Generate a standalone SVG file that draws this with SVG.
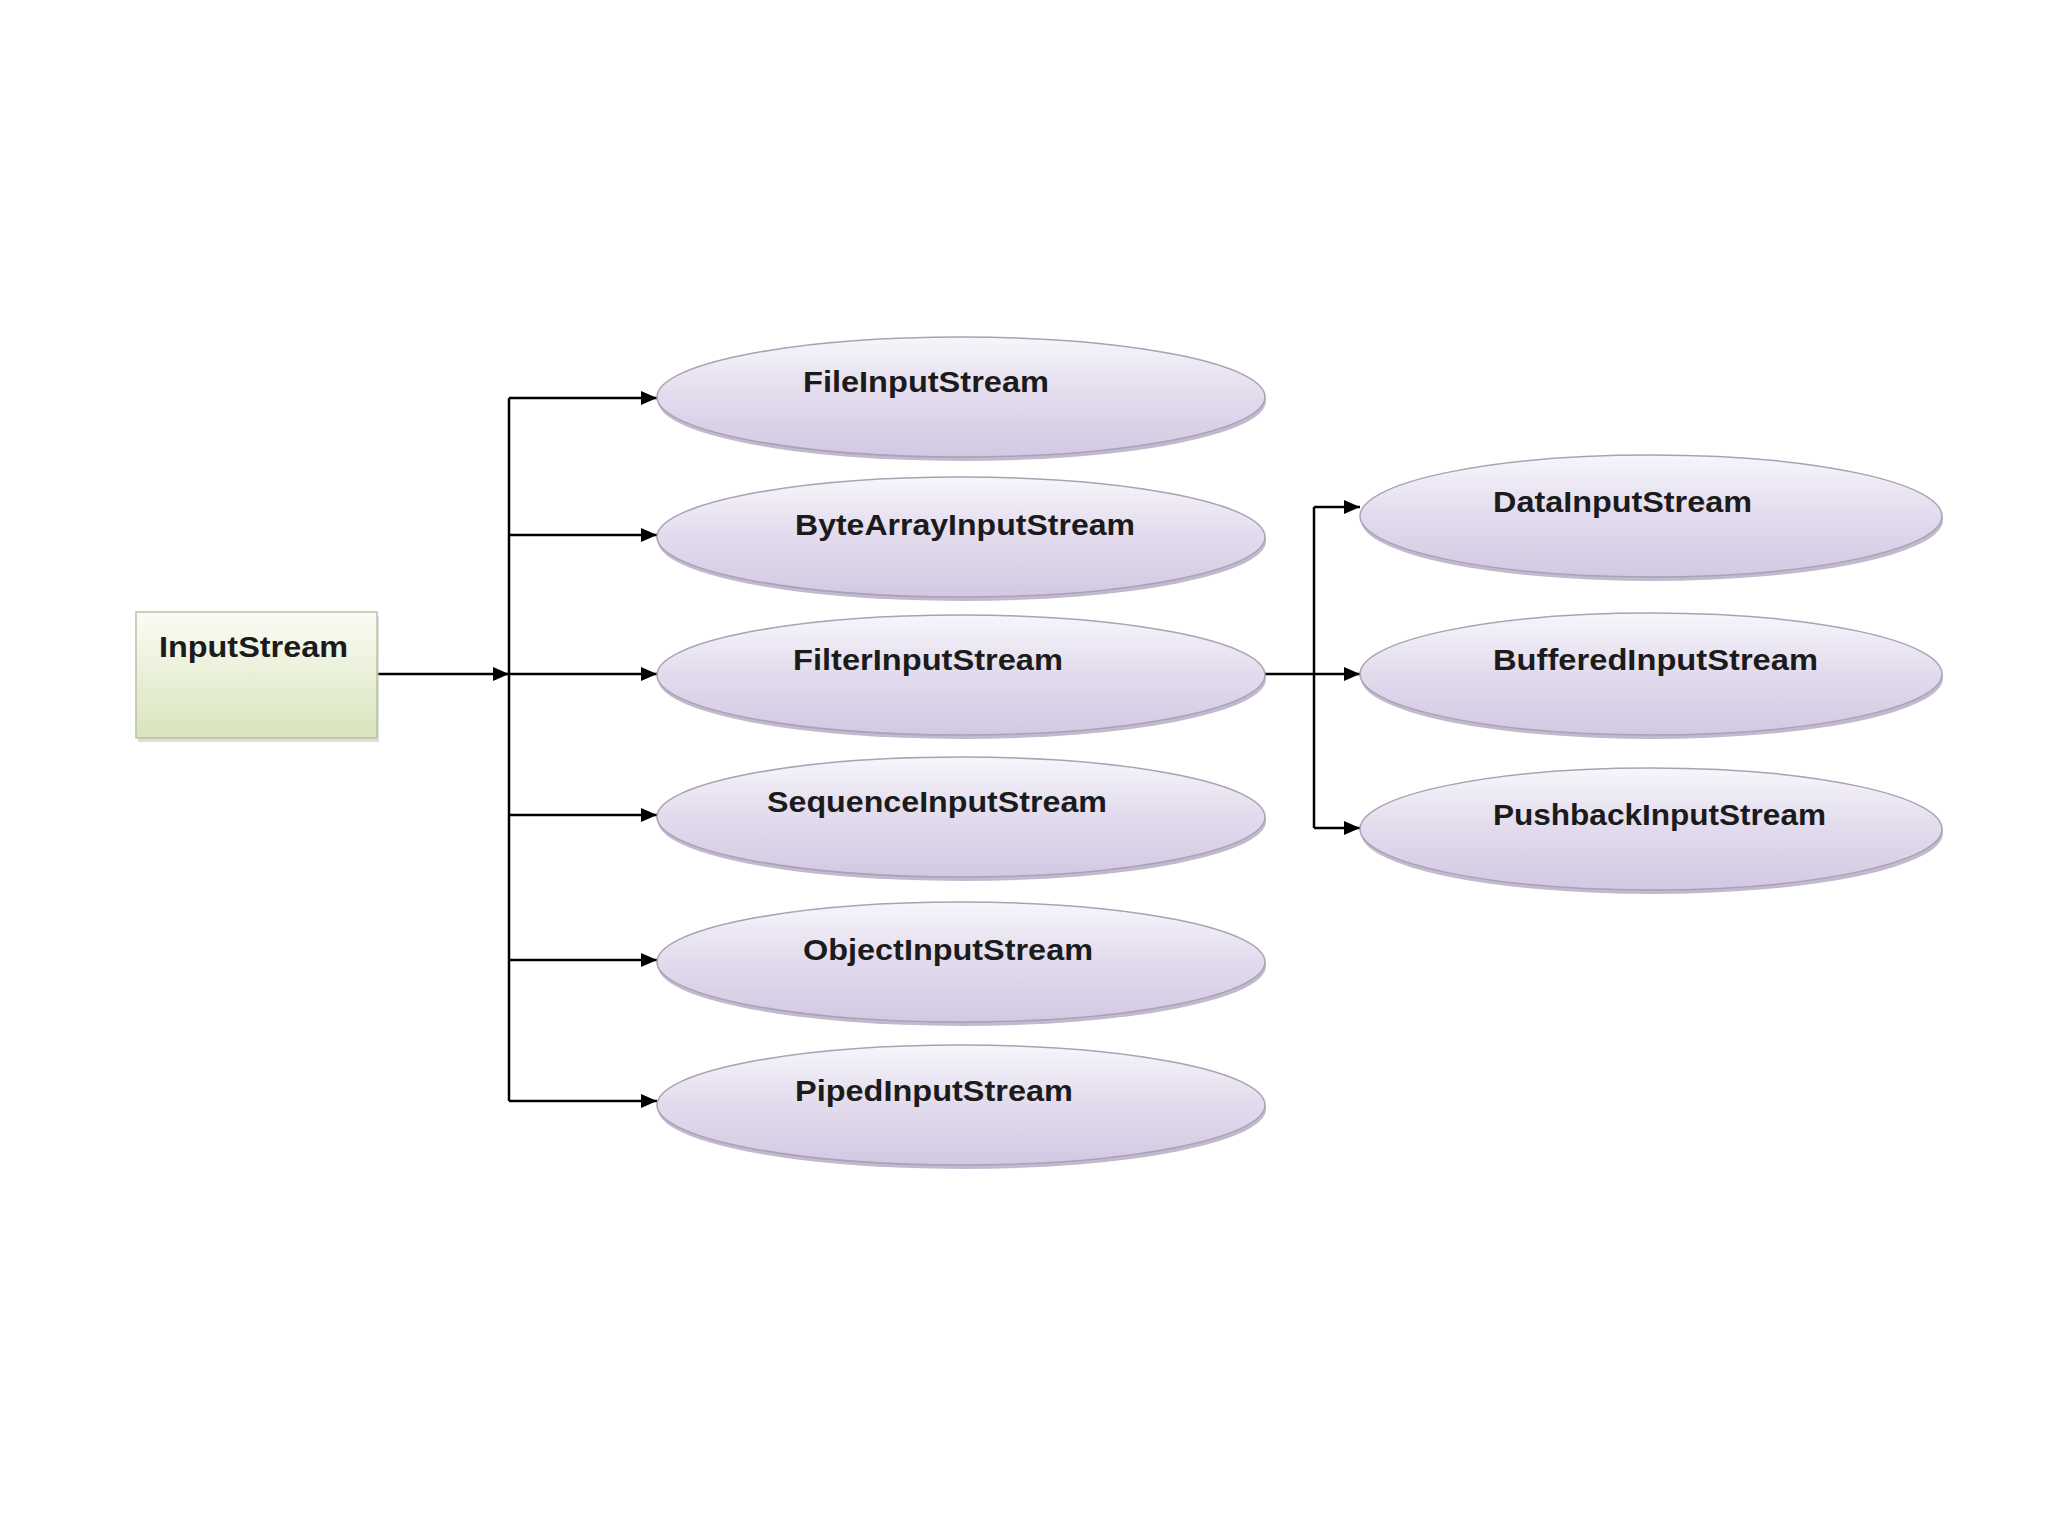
<svg xmlns="http://www.w3.org/2000/svg" width="2048" height="1536" viewBox="0 0 2048 1536">
<defs>
<linearGradient id="gEll" x1="0" y1="0" x2="0" y2="1">
<stop offset="0" stop-color="#f7f6fb"/>
<stop offset="0.45" stop-color="#e4ddee"/>
<stop offset="1" stop-color="#d3c8e2"/>
</linearGradient>
<linearGradient id="gBox" x1="0" y1="0" x2="0" y2="1">
<stop offset="0" stop-color="#fbfcf5"/>
<stop offset="1" stop-color="#d8e4bb"/>
</linearGradient>
<marker id="arr" viewBox="0 0 10 10" refX="10" refY="5" markerWidth="8" markerHeight="8" markerUnits="userSpaceOnUse" orient="auto">
<path d="M0,0 L10,5 L0,10 z" fill="#000"/>
</marker>
<marker id="arrow" viewBox="0 0 16 14" refX="16" refY="7" markerWidth="16" markerHeight="14" markerUnits="userSpaceOnUse" orient="auto">
<path d="M0,0 L16,7 L0,14 z" fill="#000"/>
</marker>
</defs>
<style>
.ell{fill:url(#gEll);stroke:#a9a2b4;stroke-width:1.5}
.sh{fill:#b3a8c2;opacity:0.8}
.box{fill:url(#gBox);stroke:#b9c1aa;stroke-width:1.5}
.t{font-family:"Liberation Sans",Arial,sans-serif;font-weight:bold;font-size:30px;fill:#1b1b1b}
.ln{stroke:#000;stroke-width:2.5;fill:none}
.la{stroke:#000;stroke-width:2.5;fill:none;marker-end:url(#arrow)}
</style>
<rect width="2048" height="1536" fill="#ffffff"/>

<g id="connectors">
<line class="la" x1="377" y1="674" x2="509" y2="674"/>
<line class="ln" x1="509" y1="398" x2="509" y2="1101"/>
<line class="la" x1="509" y1="398" x2="657" y2="398"/>
<line class="la" x1="509" y1="535" x2="657" y2="535"/>
<line class="la" x1="509" y1="674" x2="657" y2="674"/>
<line class="la" x1="509" y1="815" x2="657" y2="815"/>
<line class="la" x1="509" y1="960" x2="657" y2="960"/>
<line class="la" x1="509" y1="1101" x2="657" y2="1101"/>
<line class="la" x1="1265" y1="674" x2="1360" y2="674"/>
<line class="ln" x1="1314" y1="507" x2="1314" y2="828"/>
<line class="la" x1="1314" y1="507" x2="1360" y2="507"/>
<line class="la" x1="1314" y1="828" x2="1360" y2="828"/>
</g>

<g id="InputStream">
<rect x="138" y="616" width="241" height="126" fill="#c9cdbf" opacity="0.6"/>
<rect class="box" x="136" y="612" width="241" height="126"/>
<text class="t" x="159" y="657" textLength="189" lengthAdjust="spacingAndGlyphs">InputStream</text>
</g>

<g id="FileInputStream">
<ellipse class="sh" cx="962" cy="401" rx="304" ry="60"/>
<ellipse class="ell" cx="961" cy="397" rx="304" ry="60"/>
<text class="t" x="803" y="392" textLength="246" lengthAdjust="spacingAndGlyphs">FileInputStream</text>
</g>

<g id="ByteArrayInputStream">
<ellipse class="sh" cx="962" cy="541" rx="304" ry="60"/>
<ellipse class="ell" cx="961" cy="537" rx="304" ry="60"/>
<text class="t" x="795" y="535" textLength="340" lengthAdjust="spacingAndGlyphs">ByteArrayInputStream</text>
</g>

<g id="FilterInputStream">
<ellipse class="sh" cx="962" cy="679" rx="304" ry="60"/>
<ellipse class="ell" cx="961" cy="675" rx="304" ry="60"/>
<text class="t" x="793" y="670" textLength="270" lengthAdjust="spacingAndGlyphs">FilterInputStream</text>
</g>

<g id="SequenceInputStream">
<ellipse class="sh" cx="962" cy="821" rx="304" ry="60"/>
<ellipse class="ell" cx="961" cy="817" rx="304" ry="60"/>
<text class="t" x="767" y="812" textLength="340" lengthAdjust="spacingAndGlyphs">SequenceInputStream</text>
</g>

<g id="ObjectInputStream">
<ellipse class="sh" cx="962" cy="966" rx="304" ry="60"/>
<ellipse class="ell" cx="961" cy="962" rx="304" ry="60"/>
<text class="t" x="803" y="960" textLength="290" lengthAdjust="spacingAndGlyphs">ObjectInputStream</text>
</g>

<g id="PipedInputStream">
<ellipse class="sh" cx="962" cy="1109" rx="304" ry="60"/>
<ellipse class="ell" cx="961" cy="1105" rx="304" ry="60"/>
<text class="t" x="795" y="1101" textLength="278" lengthAdjust="spacingAndGlyphs">PipedInputStream</text>
</g>

<g id="DataInputStream">
<ellipse class="sh" cx="1652" cy="520" rx="291" ry="61"/>
<ellipse class="ell" cx="1651" cy="516" rx="291" ry="61"/>
<text class="t" x="1493" y="512" textLength="259" lengthAdjust="spacingAndGlyphs">DataInputStream</text>
</g>

<g id="BufferedInputStream">
<ellipse class="sh" cx="1652" cy="678" rx="291" ry="61"/>
<ellipse class="ell" cx="1651" cy="674" rx="291" ry="61"/>
<text class="t" x="1493" y="670" textLength="325" lengthAdjust="spacingAndGlyphs">BufferedInputStream</text>
</g>

<g id="PushbackInputStream">
<ellipse class="sh" cx="1652" cy="833" rx="291" ry="61"/>
<ellipse class="ell" cx="1651" cy="829" rx="291" ry="61"/>
<text class="t" x="1493" y="825" textLength="333" lengthAdjust="spacingAndGlyphs">PushbackInputStream</text>
</g>
</svg>
